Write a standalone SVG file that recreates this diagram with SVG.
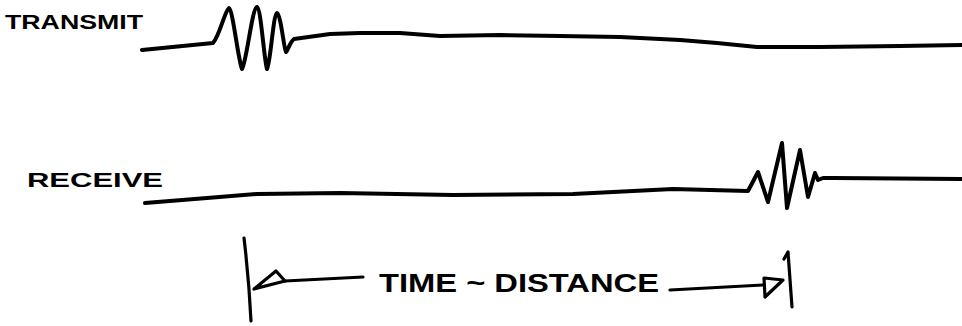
<svg xmlns="http://www.w3.org/2000/svg" width="962" height="326" viewBox="0 0 962 326">
<style>
.lbl{font-family:"Liberation Sans","DejaVu Sans",sans-serif;font-weight:bold;fill:#000;}
.sig{fill:none;stroke:#000;stroke-width:4;stroke-linejoin:round;stroke-linecap:round;}
.dim{fill:none;stroke:#000;stroke-width:3.2;stroke-linejoin:round;stroke-linecap:round;}
</style>
<rect width="962" height="326" fill="#fff"/>
<g id="transmit">
<text class="lbl" x="5" y="29" font-size="20" textLength="138" lengthAdjust="spacingAndGlyphs">TRANSMIT</text>
<path class="sig" d="M142,50 L213,43 C220,35 225,10 229,8 C233,10 238,60 242,69 C247,60 252,8 257,7 C261,8 264,60 267,69 C271,60 273,15 277,13 C281,15 284,50 286,52 C288,50 290,42 294,39 L330,34 L360,33 L400,33 L440,36 L500,35 L560,36 L620,37 L680,40 L717,43 L757,47 L820,47 L900,46 L962,45"/>
</g>
<g id="receive">
<text class="lbl" x="27" y="187" font-size="21" textLength="136" lengthAdjust="spacingAndGlyphs">RECEIVE</text>
<path class="sig" d="M145,203 L207,198 L257,194 L340,193 L453,195 L573,194 L673,189 L748,191 L758,172 L768,202 L782,143 L787,208 L800,150 L808,197 L815,173 L818,180 L823,178 L833,178 L962,179"/>
</g>
<g id="connectors">
<path class="dim" d="M244,238 Q249,280 251,321"/>
<polygon class="dim" points="254,289 276,271 285,281"/>
<path class="dim" d="M285,281 L363,277"/>
<path class="dim" d="M670,290 L763,285"/>
<polygon class="dim" points="764,278 783,280 765,297"/>
<path class="dim" d="M784,259 L788,252 L792,307"/>
</g>
<g id="dimension-label">
<text class="lbl" x="379" y="292" font-size="25" textLength="280" lengthAdjust="spacingAndGlyphs">TIME ~ DISTANCE</text>
</g>
</svg>
